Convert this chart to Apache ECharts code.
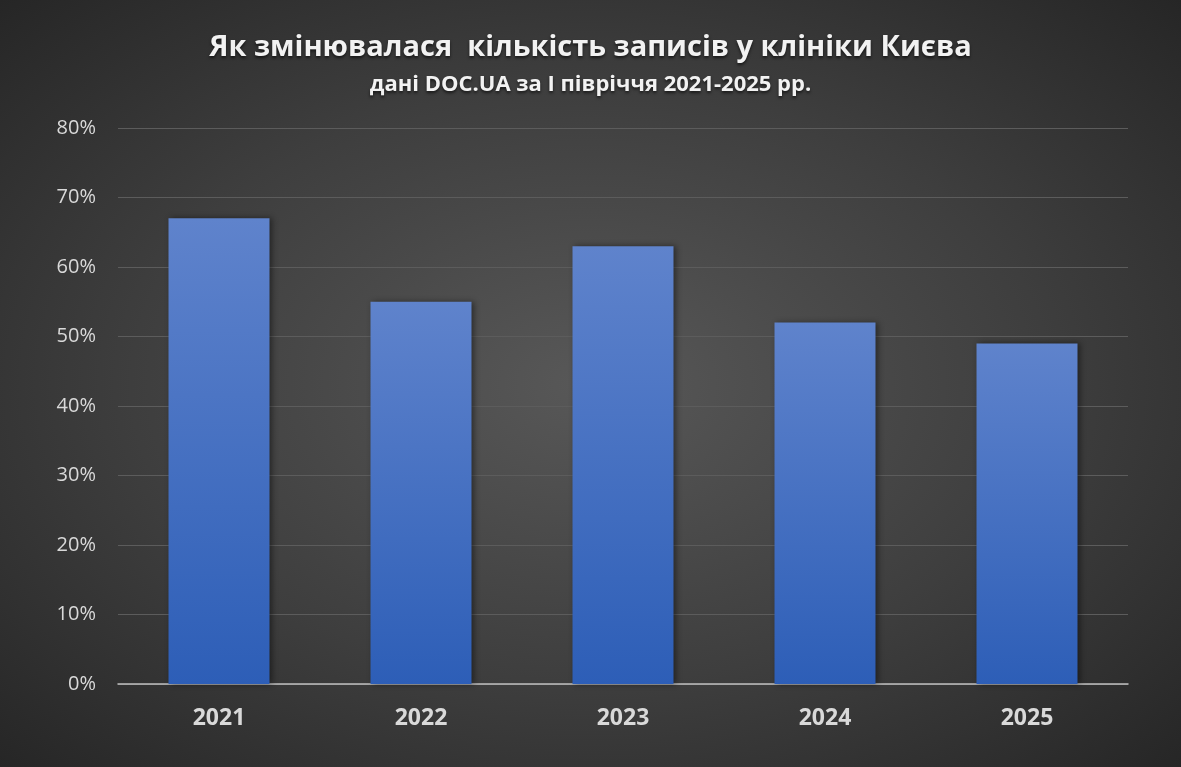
<!DOCTYPE html>
<html>
<head>
<meta charset="utf-8">
<script src="https://cdn.jsdelivr.net/npm/echarts@6/dist/echarts.min.js"></script>
<style>
  html, body { margin: 0; padding: 0; }
  #main {
    width: 1181px; height: 767px;
    background: radial-gradient(ellipse at 50% 50%, #585858 0%, #3e3e3e 55%, #262626 100%);
  }
</style>
</head>
<body>
<div id="main"></div>
<script>
// дані DOC.UA, частка записів за I півріччя
const years = ["2021", "2022", "2023", "2024", "2025"];
const shares = [67, 55, 63, 52, 49];
const yTicks = [0, 10, 20, 30, 40, 50, 60, 70, 80];

const titleText = "Як змінювалася  кількість записів у клініки Києва";
const subtitleText = "дані DOC.UA за I півріччя 2021-2025 рр.";

var chart = echarts.init(document.getElementById("main"), null, { renderer: "canvas" });

chart.setOption({
  backgroundColor: "transparent",
  title: {
    text: titleText,
    subtext: subtitleText,
    left: "center",
    top: 28,
    itemGap: 12,
    textStyle: {
      color: "#f2f2f2",
      fontFamily: "Open Sans",
      fontWeight: "bold",
      fontSize: 29,
      textShadowColor: "rgba(0,0,0,0.6)",
      textShadowBlur: 3,
      textShadowOffsetY: 2
    },
    subtextStyle: {
      color: "#f2f2f2",
      fontFamily: "Open Sans",
      fontWeight: "bold",
      fontSize: 22,
      textShadowColor: "rgba(0,0,0,0.6)",
      textShadowBlur: 3,
      textShadowOffsetY: 2
    }
  },
  grid: { left: 118, right: 53, top: 128, bottom: 83, containLabel: false },
  xAxis: {
    type: "category",
    data: years,
    axisTick: { show: false },
    axisLine: { lineStyle: { color: "#bfbfbf", width: 1.5 } },
    axisLabel: {
      color: "#d9d9d9",
      fontFamily: "Open Sans",
      fontWeight: "bold",
      fontSize: 23,
      margin: 23
    }
  },
  yAxis: {
    type: "value",
    min: yTicks[0],
    max: yTicks[yTicks.length - 1],
    interval: 10,
    axisLine: { show: false },
    axisTick: { show: false },
    splitLine: { lineStyle: { color: "#5c5c5c", width: 1.2 } },
    axisLabel: {
      color: "#d9d9d9",
      fontFamily: "Open Sans",
      fontSize: 20,
      margin: 22,
      formatter: "{value}%"
    }
  },
  series: [{
    type: "bar",
    data: shares,
    barWidth: "50%",
    itemStyle: {
      color: new echarts.graphic.LinearGradient(0, 0, 0, 1, [
        { offset: 0, color: "#5f83cc" },
        { offset: 1, color: "#2d5eb7" }
      ]),
      shadowColor: "rgba(0,0,0,0.45)",
      shadowBlur: 6,
      shadowOffsetX: 2,
      shadowOffsetY: 0
    }
  }],
  animation: false
});
</script>
</body>
</html>
